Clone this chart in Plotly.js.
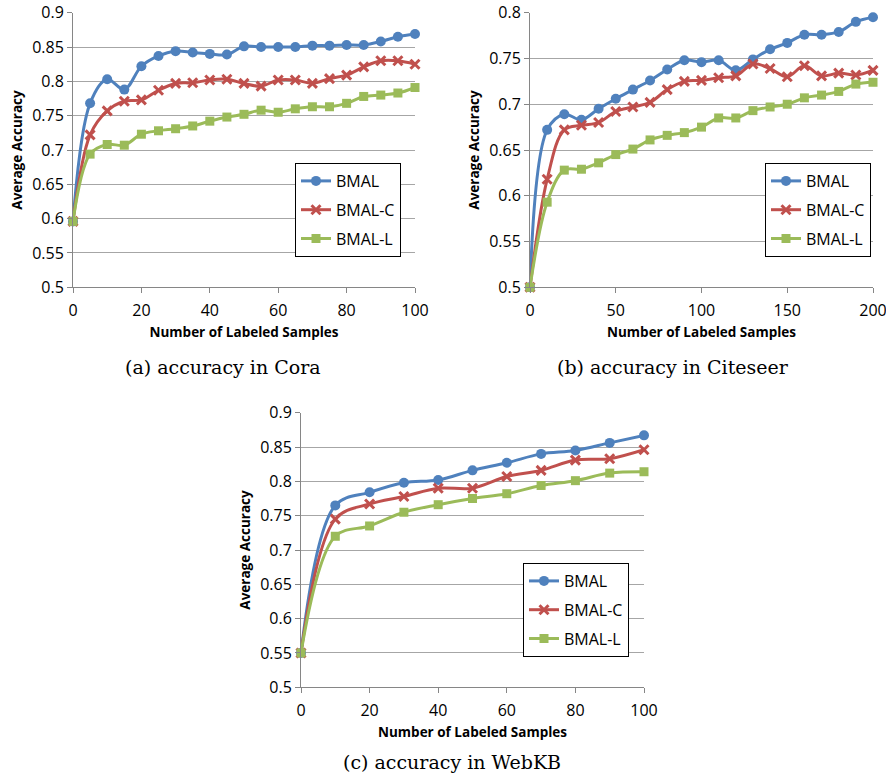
<!DOCTYPE html>
<html>
<head>
<meta charset="utf-8">
<script src="https://cdn.plot.ly/plotly-3.0.1.min.js"></script>
<style>html,body{margin:0;padding:0;background:#fff;}#chart{width:886px;height:780px;}</style>
</head>
<body>
<div id="chart"></div>
<script>
// ---- Data ----
const seriesNames = ["BMAL", "BMAL-C", "BMAL-L"];

// (a) Cora
const coraX = [0,5,10,15,20,25,30,35,40,45,50,55,60,65,70,75,80,85,90,95,100];
const coraBMAL  = [0.596,0.768,0.803,0.788,0.822,0.837,0.844,0.842,0.840,0.839,0.851,0.850,0.850,0.850,0.852,0.852,0.853,0.853,0.858,0.865,0.869];
const coraBMALC = [0.596,0.722,0.757,0.771,0.773,0.787,0.797,0.798,0.802,0.803,0.797,0.793,0.802,0.802,0.797,0.804,0.809,0.821,0.830,0.830,0.825];
const coraBMALL = [0.596,0.694,0.708,0.707,0.723,0.728,0.731,0.735,0.742,0.748,0.752,0.758,0.755,0.760,0.763,0.763,0.768,0.778,0.780,0.783,0.791];

// (b) Citeseer
const citeX = [0,10,20,30,40,50,60,70,80,90,100,110,120,130,140,150,160,170,180,190,200];
const citeBMAL  = [0.500,0.672,0.689,0.683,0.695,0.706,0.716,0.726,0.738,0.748,0.746,0.748,0.737,0.749,0.760,0.767,0.776,0.776,0.779,0.790,0.795];
const citeBMALC = [0.500,0.618,0.672,0.677,0.680,0.692,0.697,0.702,0.716,0.725,0.726,0.729,0.731,0.744,0.739,0.730,0.742,0.731,0.734,0.732,0.737];
const citeBMALL = [0.500,0.593,0.628,0.629,0.636,0.645,0.651,0.661,0.666,0.669,0.675,0.685,0.685,0.693,0.697,0.700,0.707,0.710,0.714,0.722,0.724];

// (c) WebKB
const webX = [0,10,20,30,40,50,60,70,80,90,100];
const webBMAL  = [0.550,0.765,0.784,0.798,0.802,0.816,0.827,0.840,0.845,0.856,0.867];
const webBMALC = [0.550,0.745,0.767,0.778,0.790,0.790,0.807,0.816,0.831,0.833,0.846];
const webBMALL = [0.550,0.720,0.735,0.755,0.766,0.775,0.782,0.794,0.801,0.812,0.814];

// Tick labels
const yTicksA = [0.5,0.55,0.6,0.65,0.7,0.75,0.8,0.85,0.9];
const yTextA  = ["0.5","0.55","0.6","0.65","0.7","0.75","0.8","0.85","0.9"];
const yTicksB = [0.5,0.55,0.6,0.65,0.7,0.75,0.8];
const yTextB  = ["0.5","0.55","0.6","0.65","0.7","0.75","0.8"];
const xTicksA = [0,20,40,60,80,100];
const xTicksB = [0,50,100,150,200];

const captions = ["(a) accuracy in Cora", "(b) accuracy in Citeseer", "(c) accuracy in WebKB"];
const xTitle = "Number of Labeled Samples";
const yTitle = "Average Accuracy";

// ---- Styles ----
const colors = ["#4F81BD", "#C0504D", "#9BBB59"];
const markers = [
  {symbol: "circle", size: 10},
  {symbol: "x-thin-open", size: 9, line: {width: 3}},
  {symbol: "square", size: 9}
];

function mk(x, y, i, xa, ya, leg) {
  const m = Object.assign({color: colors[i]}, markers[i]);
  if (m.line) m.line = Object.assign({color: colors[i]}, m.line);
  return {
    x: x, y: y, name: seriesNames[i], type: "scatter", mode: "lines+markers",
    xaxis: xa, yaxis: ya, legend: leg, legendgroup: leg + i, cliponaxis: false,
    line: {color: colors[i], width: 3, shape: "spline", smoothing: 1},
    marker: m
  };
}

const traces = [
  mk(coraX, coraBMAL, 0, "x", "y", "legend"),
  mk(coraX, coraBMALC, 1, "x", "y", "legend"),
  mk(coraX, coraBMALL, 2, "x", "y", "legend"),
  mk(citeX, citeBMAL, 0, "x2", "y2", "legend2"),
  mk(citeX, citeBMALC, 1, "x2", "y2", "legend2"),
  mk(citeX, citeBMALL, 2, "x2", "y2", "legend2"),
  mk(webX, webBMAL, 0, "x3", "y3", "legend3"),
  mk(webX, webBMALC, 1, "x3", "y3", "legend3"),
  mk(webX, webBMALL, 2, "x3", "y3", "legend3")
];

const W = 886, H = 780;
const tickFont = {family: "Open Sans, sans-serif", size: 16, color: "#000"};
const titleFont = {family: "Open Sans, sans-serif", size: 13.5, color: "#000", weight: "bold"};

function xax(d0, d1, anchor, range, tv) {
  return {
    domain: [d0 / W, d1 / W], anchor: anchor, range: range, tickvals: tv,
    showgrid: false, zeroline: false, showline: true, linecolor: "#868686", linewidth: 1,
    ticks: "outside", ticklen: 5, tickcolor: "#868686", tickfont: tickFont,
    ticklabelstandoff: 3, ticklabeloverflow: "allow",
    title: {text: xTitle, font: titleFont, standoff: 8}
  };
}
function yax(p0, p1, anchor, range, tv, tt) {
  return {
    domain: [1 - p1 / H, 1 - p0 / H], anchor: anchor, range: range, tickvals: tv, ticktext: tt,
    showgrid: true, gridcolor: "#A6A6A6", gridwidth: 1, zeroline: false,
    showline: true, linecolor: "#868686", linewidth: 1,
    ticks: "outside", ticklen: 5, tickcolor: "#868686", tickfont: tickFont,
    ticklabeloverflow: "allow",
    title: {text: yTitle, font: titleFont, standoff: 6}
  };
}
function leg(xpx, ypx) {
  return {
    x: xpx / W, y: 1 - ypx / H, xanchor: "left", yanchor: "top",
    bgcolor: "#fff", bordercolor: "#000", borderwidth: 1,
    font: {family: "Open Sans, sans-serif", size: 16, color: "#000"},
    traceorder: "grouped", tracegroupgap: 5
  };
}

const layout = {
  width: W, height: H, margin: {l: 0, r: 0, t: 0, b: 0},
  paper_bgcolor: "#fff", plot_bgcolor: "#fff", showlegend: true,
  xaxis: xax(73, 415, "y", [0, 100], xTicksA),
  yaxis: yax(12.7, 287.3, "x", [0.5, 0.9], yTicksA, yTextA),
  xaxis2: xax(530, 873, "y2", [0, 200], xTicksB),
  yaxis2: yax(12.7, 287.3, "x2", [0.5, 0.8], yTicksB, yTextB),
  xaxis3: xax(301, 644, "y3", [0, 100], xTicksA),
  yaxis3: yax(412.7, 687.3, "x3", [0.5, 0.9], yTicksA, yTextA),
  legend: leg(295, 163),
  legend2: leg(765, 163),
  legend3: leg(523, 563),
  annotations: [
    {text: captions[0], x: 223 / W, y: 1 - 367 / H},
    {text: captions[1], x: 673 / W, y: 1 - 367 / H},
    {text: captions[2], x: 452 / W, y: 1 - 762 / H}
  ].map(a => Object.assign(a, {
    xref: "paper", yref: "paper", showarrow: false, xanchor: "center", yanchor: "middle",
    font: {family: "DejaVu Serif, serif", size: 19, color: "#000"}
  }))
};

Plotly.newPlot("chart", traces, layout, {displayModeBar: false, staticPlot: true});
</script>
</body>
</html>
